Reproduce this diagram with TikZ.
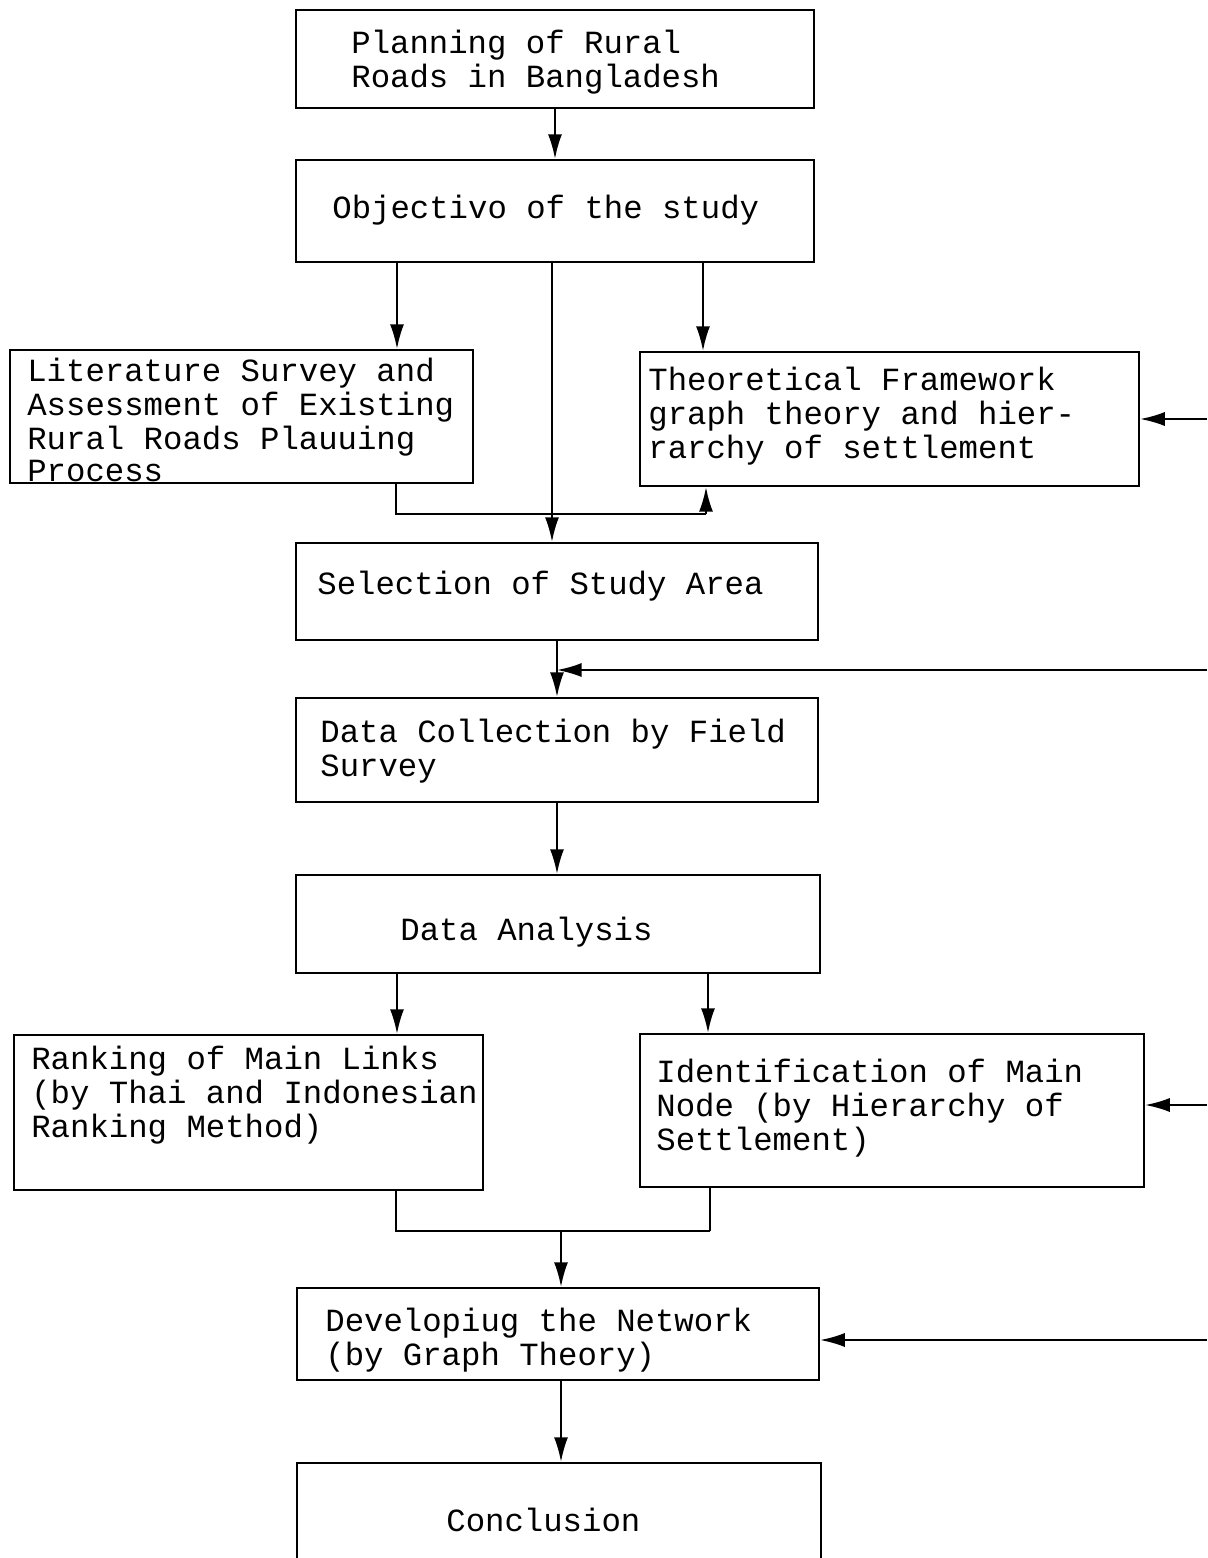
\documentclass[tikz,border=0pt]{standalone}
\usepackage{fontspec}
\setmainfont{Liberation Mono}
\usetikzlibrary{arrows.meta,fit}
\tikzset{
  box/.style={draw=black, line width=1.3pt, rectangle, inner sep=0pt},
  txt/.style={anchor=west, inner sep=0pt, align=left, font=\fontsize{18.4}{19.4}\selectfont},
  conn/.style={draw=black, line width=1.1pt},
  arr/.style={conn, -{Latex[length=14pt,width=8pt]}}
}
\begin{document}
\begin{tikzpicture}[x=0.02cm, y=-0.02cm]
\useasboundingbox[fill=white] (0,0) rectangle (1207,1558);
% boxes
\node[box, fit={(296,10) (814,108)}] (b1) {};
\node[box, fit={(296,160) (814,262)}] (b2) {};
\node[box, fit={(10,350) (473,483)}] (b3) {};
\node[box, fit={(640,352) (1139,486)}] (b4) {};
\node[box, fit={(296,543) (818,640)}] (b5) {};
\node[box, fit={(296,698) (818,802)}] (b6) {};
\node[box, fit={(296,875) (820,973)}] (b7) {};
\node[box, fit={(14,1035) (483,1190)}] (b8) {};
\node[box, fit={(640,1034) (1144,1187)}] (b9) {};
\node[box, fit={(297,1288) (819,1380)}] (b10) {};
\node[box, fit={(297,1463) (821,1600)}] (b11) {};
% texts
\node[txt] (t1) at (351,62) {Planning of Rural\\Roads in Bangladesh};
\node[txt] (t2) at (332,210) {Objectivo of the study};
\node[txt] (t3) at (27,420) {Literature Survey and\\Assessment of Existing\\Rural Roads Plauuing\\[-1pt]Process};
\node[txt] (t4) at (648,416) {Theoretical Framework\\graph theory and hier-\\rarchy of settlement};
\node[txt] (t5) at (317,586) {Selection of Study Area};
\node[txt] (t6) at (320,751) {Data Collection by Field\\Survey};
\node[txt] (t7) at (400,932) {Data Analysis};
\node[txt] (t8) at (31,1095) {Ranking of Main Links\\(by Thai and Indonesian\\Ranking Method)};
\node[txt] (t9) at (656,1108) {Identification of Main\\Node (by Hierarchy of\\Settlement)};
\node[txt] (t10) at (325,1340) {Developiug the Network\\(by Graph Theory)};
\node[txt] (t11) at (446,1520) {Conclusion};
% connector points
\coordinate (r1) at (1207,419);
\coordinate (r2) at (1207,670);
\coordinate (r3) at (1207,1105);
\coordinate (r4) at (1207,1340);
% connectors
\draw[arr] (b1.south) -- (b2.north);
\draw[arr] (b2.south -| 397,0) -- (b3.north -| 397,0);
\draw[arr] (b2.south -| 552,0) -- (b5.north -| 552,0);
\draw[arr] (b2.south -| 703,0) -- (b4.north -| 703,0);
\draw[conn] (b3.south -| 396,0) |- (706,514) coordinate (j1);
\draw[arr] (j1) -- (b4.south -| j1);
\draw[arr] (r1) -- (b4.east);
\draw[arr] (b5.south) -- (b6.north -| b5.south);
\draw[arr] (r2) -- (r2 -| b5.south);
\draw[arr] (b6.south) -- (b7.north -| b6.south);
\draw[arr] (b7.south -| 397,0) -- (b8.north -| 397,0);
\draw[arr] (b7.south -| 708,0) -- (b9.north -| 708,0);
\draw[conn] (b8.south -| 396,0) |- (710,1231) coordinate (j2);
\draw[conn] (j2) -- (b9.south -| j2);
\coordinate (j3) at (561,1231);
\draw[arr] (j3) -- (b10.north -| j3);
\draw[arr] (r3) -- (r3 -| b9.east);
\draw[arr] (r4) -- (r4 -| b10.east);
\draw[arr] (b10.south -| 561,0) -- (b11.north -| 561,0);
\end{tikzpicture}
\end{document}
